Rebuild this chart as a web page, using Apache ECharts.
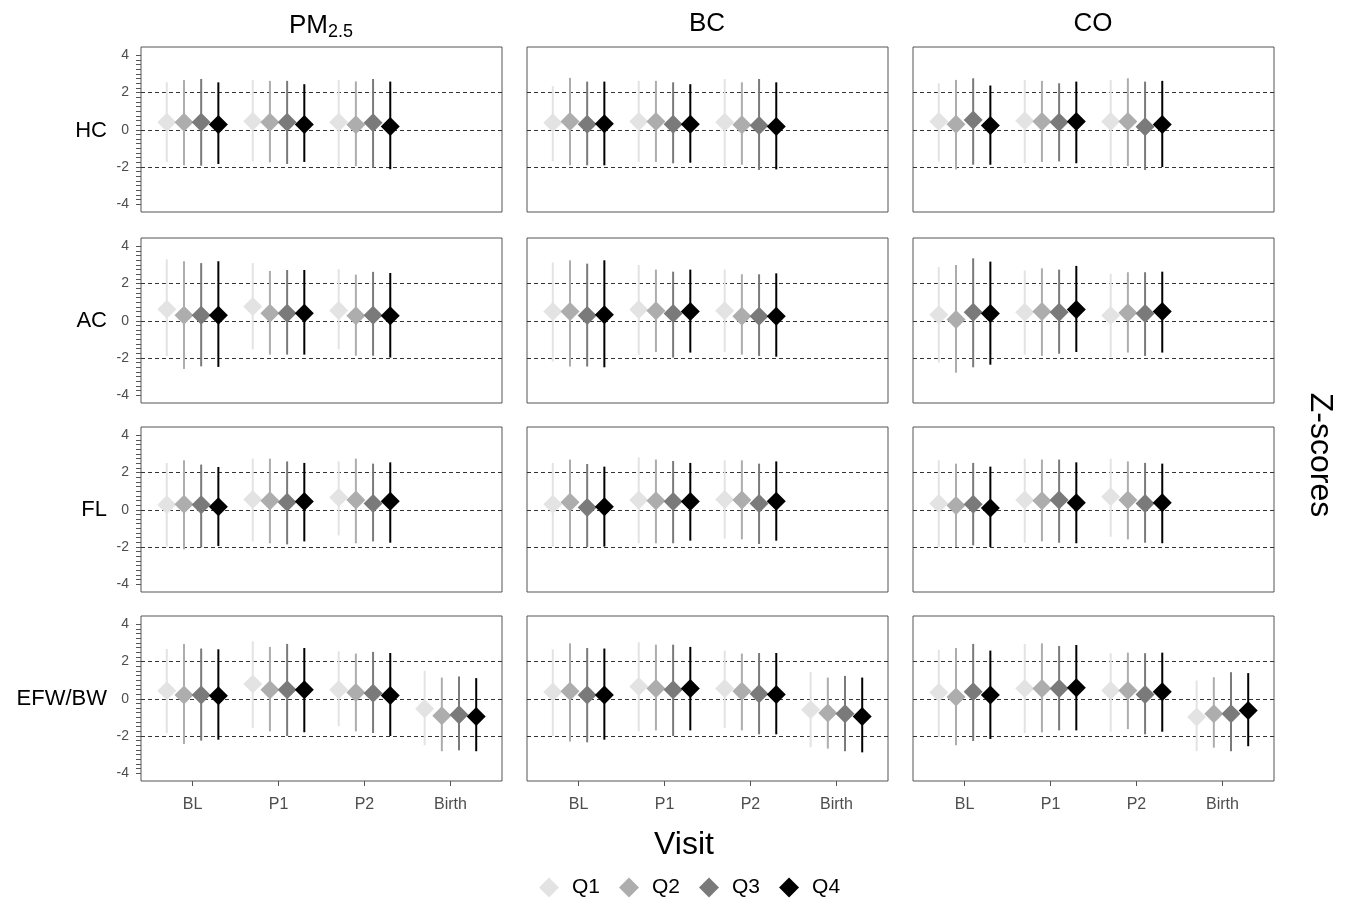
<!DOCTYPE html>
<html>
<head>
<meta charset="utf-8">
<script src="https://cdn.jsdelivr.net/npm/echarts@6/dist/echarts.min.js"></script>
<style>html,body{margin:0;padding:0;background:#fff}#c{width:1351px;height:900px}</style>
</head>
<body>
<div id="c"></div>
<script>
// ---- categories ----
const visits = ['BL', 'P1', 'P2', 'Birth'];
const pollutants = ['PM2.5', 'BC', 'CO'];
const outcomes = ['HC', 'AC', 'FL', 'EFW/BW'];
const quartiles = ['Q1', 'Q2', 'Q3', 'Q4'];
const yTickLabels = [-4, -2, 0, 2, 4];
const refLines = [-2, 0, 2];

// ---- data: each row = one visit, each entry = [estimate, lower, upper] for Q1..Q4 ----
const PM25_HC = [
  [[0.41,-1.73,2.55],[0.41,-1.91,2.68],[0.41,-1.93,2.73],[0.29,-1.84,2.55]],
  [[0.46,-1.70,2.68],[0.41,-1.75,2.63],[0.41,-1.84,2.63],[0.29,-1.73,2.45]],
  [[0.41,-1.96,2.68],[0.27,-1.96,2.60],[0.38,-2.05,2.73],[0.18,-2.12,2.59]]
];
const PM25_AC = [
  [[0.62,-1.91,3.30],[0.30,-2.59,3.20],[0.30,-2.45,3.10],[0.30,-2.48,3.20]],
  [[0.77,-1.54,3.10],[0.41,-1.82,2.68],[0.41,-1.82,2.73],[0.41,-1.82,2.73]],
  [[0.55,-1.54,2.77],[0.27,-1.88,2.48],[0.30,-1.88,2.63],[0.27,-1.98,2.57]]
];
const PM25_FL = [
  [[0.27,-1.98,2.52],[0.30,-2.13,2.66],[0.27,-2.02,2.43],[0.16,-1.95,2.30]],
  [[0.55,-1.70,2.75],[0.48,-1.80,2.75],[0.41,-1.86,2.60],[0.45,-1.70,2.52]],
  [[0.66,-1.38,2.60],[0.52,-1.80,2.75],[0.34,-1.70,2.48],[0.46,-1.77,2.55]]
];
const PM25_EFW = [
  [[0.43,-1.84,2.68],[0.20,-2.43,2.95],[0.20,-2.25,2.70],[0.16,-2.20,2.66]],
  [[0.80,-1.57,3.09],[0.48,-1.75,2.79],[0.48,-2.00,2.95],[0.48,-1.80,2.73]],
  [[0.48,-1.48,2.55],[0.34,-1.75,2.43],[0.30,-1.84,2.52],[0.18,-2.00,2.46]],
  [[-0.54,-2.50,1.50],[-0.91,-2.82,1.14],[-0.86,-2.77,1.20],[-0.95,-2.82,1.11]]
];
const BC_HC = [
  [[0.38,-1.70,2.34],[0.45,-1.91,2.79],[0.30,-1.91,2.59],[0.32,-1.91,2.59]],
  [[0.45,-1.73,2.63],[0.45,-1.73,2.63],[0.30,-1.80,2.55],[0.30,-1.77,2.45]],
  [[0.41,-1.95,2.73],[0.27,-1.88,2.55],[0.23,-2.16,2.73],[0.18,-2.13,2.55]]
];
const BC_AC = [
  [[0.50,-2.20,3.14],[0.50,-2.46,3.25],[0.29,-2.46,3.07],[0.32,-2.50,3.25]],
  [[0.61,-1.84,3.00],[0.54,-1.68,2.75],[0.39,-1.98,2.64],[0.50,-1.71,2.75]],
  [[0.54,-1.68,2.75],[0.25,-1.82,2.50],[0.25,-1.89,2.50],[0.25,-1.93,2.55]]
];
const BC_FL = [
  [[0.30,-1.98,2.52],[0.40,-2.00,2.70],[0.12,-2.00,2.46],[0.16,-1.98,2.32]],
  [[0.52,-1.80,2.82],[0.48,-1.80,2.70],[0.45,-1.80,2.62],[0.45,-1.66,2.52]],
  [[0.55,-1.55,2.66],[0.52,-1.59,2.66],[0.34,-1.84,2.48],[0.46,-1.66,2.60]]
];
const BC_EFW = [
  [[0.37,-2.00,2.66],[0.41,-2.30,2.98],[0.20,-2.34,2.73],[0.20,-2.20,2.70]],
  [[0.66,-1.75,3.04],[0.55,-1.70,2.91],[0.48,-2.00,2.91],[0.55,-1.70,2.79]],
  [[0.55,-1.57,2.59],[0.41,-1.70,2.43],[0.27,-1.91,2.46],[0.23,-1.91,2.46]],
  [[-0.59,-2.61,1.45],[-0.77,-2.68,1.14],[-0.80,-2.82,1.23],[-0.95,-2.88,1.14]]
];
const CO_HC = [
  [[0.45,-1.70,2.50],[0.30,-2.13,2.68],[0.52,-1.88,2.77],[0.23,-1.88,2.38]],
  [[0.48,-1.80,2.68],[0.45,-1.73,2.63],[0.41,-1.70,2.50],[0.45,-1.80,2.59]],
  [[0.45,-1.95,2.68],[0.45,-1.95,2.77],[0.16,-2.16,2.59],[0.29,-2.00,2.63]]
];
const CO_AC = [
  [[0.32,-2.25,2.89],[0.07,-2.79,3.00],[0.46,-2.50,3.36],[0.39,-2.36,3.18]],
  [[0.46,-1.82,2.71],[0.50,-1.89,2.82],[0.46,-1.77,2.75],[0.61,-1.68,2.95]],
  [[0.29,-1.96,2.52],[0.43,-1.71,2.61],[0.39,-1.89,2.61],[0.50,-1.71,2.64]]
];
const CO_FL = [
  [[0.34,-2.00,2.66],[0.23,-2.00,2.48],[0.30,-1.91,2.52],[0.09,-2.00,2.32]],
  [[0.52,-1.77,2.75],[0.48,-1.70,2.70],[0.52,-1.77,2.70],[0.38,-1.80,2.55]],
  [[0.70,-1.45,2.75],[0.52,-1.59,2.60],[0.34,-1.77,2.52],[0.38,-1.80,2.48]]
];
const CO_EFW = [
  [[0.34,-2.05,2.63],[0.09,-2.50,2.73],[0.38,-2.27,2.95],[0.20,-2.16,2.59]],
  [[0.55,-1.84,2.95],[0.55,-1.80,2.98],[0.55,-1.70,2.84],[0.59,-1.70,2.89]],
  [[0.45,-1.77,2.45],[0.45,-1.63,2.48],[0.23,-1.91,2.45],[0.38,-1.77,2.48]],
  [[-0.98,-2.82,0.98],[-0.80,-2.63,1.16],[-0.80,-2.82,1.43],[-0.63,-2.55,1.38]]
];

// panels[row][col]
const panels = [
  [PM25_HC, BC_HC, CO_HC],
  [PM25_AC, BC_AC, CO_AC],
  [PM25_FL, BC_FL, CO_FL],
  [PM25_EFW, BC_EFW, CO_EFW]
];

// ---- styling / layout ----
const qColors = ['#e3e3e3', '#adadad', '#7a7a7a', '#000000'];
const dodge = [-0.3, -0.1, 0.1, 0.3];
const FONT = 'Liberation Sans, Arial, sans-serif';
const colLeft = [141, 527, 913];
const colWidth = 361;
const rowTop = [47, 238, 427, 616];
const rowHeight = 165;
const Y_MIN = -4.42, Y_MAX = 4.45;

const grids = [], xAxes = [], yAxes = [], series = [];
const yMinorTicks = [];
for (let v = -4; v <= 4.001; v += 0.25) yMinorTicks.push(Math.round(v * 100) / 100);

for (let r = 0; r < 4; r++) {
  for (let c = 0; c < 3; c++) {
    const gi = r * 3 + c;
    grids.push({
      left: colLeft[c], top: rowTop[r], width: colWidth, height: rowHeight,
      show: true, borderColor: '#555', borderWidth: 1, backgroundColor: '#fff'
    });
    const bottomRow = r === 3;
    xAxes.push({
      type: 'value', gridIndex: gi, min: 0.4, max: 4.6,
      axisLine: { show: false, onZero: false },
      splitLine: { show: false },
      minorTick: { show: false },
      axisTick: { show: bottomRow, customValues: [1, 2, 3, 4], length: 5, lineStyle: { color: '#555' } },
      axisLabel: {
        show: bottomRow, customValues: [1, 2, 3, 4], margin: 16,
        formatter: v => visits[Math.round(v) - 1] || '',
        color: '#4d4d4d', fontSize: 16, fontFamily: FONT
      }
    });
    const leftCol = c === 0;
    yAxes.push({
      type: 'value', gridIndex: gi, min: Y_MIN, max: Y_MAX,
      axisLine: { show: false, onZero: false },
      splitLine: { show: false },
      axisTick: { show: leftCol, customValues: yMinorTicks, length: 5, lineStyle: { color: '#555' } },
      axisLabel: {
        show: leftCol, customValues: yTickLabels, margin: 12,
        color: '#4d4d4d', fontSize: 14, fontFamily: FONT
      }
    });
    const panel = panels[r][c];
    for (let q = 0; q < 4; q++) {
      const data = panel.map((row, vi) => [vi + 1, q, row[q][0], row[q][1], row[q][2]]);
      const s = {
        type: 'custom', name: quartiles[q], xAxisIndex: gi, yAxisIndex: gi,
        itemStyle: { color: qColors[q] },
        z: 3,
        encode: { x: 0, y: [2, 3, 4] },
        data: data,
        renderItem: function (params, api) {
          const vx = api.value(0) + dodge[api.value(1)];
          const pE = api.coord([vx, api.value(2)]);
          const pL = api.coord([vx, api.value(3)]);
          const pH = api.coord([vx, api.value(4)]);
          const col = api.visual('color');
          const h = 9.5;
          return {
            type: 'group',
            children: [
              { type: 'line', shape: { x1: pL[0], y1: pL[1], x2: pH[0], y2: pH[1] }, style: { stroke: col, lineWidth: 2 } },
              { type: 'polygon', shape: { points: [[pE[0], pE[1] - h], [pE[0] + h, pE[1]], [pE[0], pE[1] + h], [pE[0] - h, pE[1]]] }, style: { fill: col } }
            ]
          };
        }
      };
      if (q === 0) {
        s.markLine = {
          silent: true, symbol: ['none', 'none'], z: 1,
          label: { show: false },
          lineStyle: { type: [4, 3], color: '#333', width: 1 },
          data: refLines.map(v => ({ yAxis: v }))
        };
      }
      series.push(s);
    }
  }
}

const titles = [
  { text: '{a|PM}{b|2.5}', left: 316, top: 6, textAlign: 'center',
    textStyle: { fontWeight: 'normal',
      rich: { a: { fontSize: 26, fontWeight: 'normal', fontFamily: FONT, color: '#000' },
              b: { fontSize: 18, fontWeight: 'normal', fontFamily: FONT, color: '#000', padding: [12, 0, 0, 0] } } } },
  { text: 'BC', left: 702, top: 6, textAlign: 'center', textStyle: { fontSize: 26, fontWeight: 'normal', fontFamily: FONT, color: '#000' } },
  { text: 'CO', left: 1088, top: 6, textAlign: 'center', textStyle: { fontSize: 26, fontWeight: 'normal', fontFamily: FONT, color: '#000' } },
  { text: 'Visit', left: 679, top: 824, textAlign: 'center', textStyle: { fontSize: 32, fontWeight: 'normal', fontFamily: FONT, color: '#000' } }
];

const rowZero = [131, 321, 510, 699];
const graphics = outcomes.map((o, r) => ({
  type: 'text', x: 107, y: rowZero[r], style: { text: o, fill: '#000', font: '22px ' + FONT, align: 'right', verticalAlign: 'middle' }
}));
graphics.push({
  type: 'text', x: 1320, y: 455, rotation: -Math.PI / 2,
  style: { text: 'Z-scores', fill: '#000', font: '32px ' + FONT, align: 'center', verticalAlign: 'middle' }
});

const chart = echarts.init(document.getElementById('c'), null, { renderer: 'canvas' });
chart.setOption({
  animation: false,
  backgroundColor: '#fff',
  title: titles,
  grid: grids,
  xAxis: xAxes,
  yAxis: yAxes,
  legend: {
    data: quartiles, left: 534, top: 872, icon: 'diamond',
    itemWidth: 20, itemHeight: 20, itemGap: 19,
    textStyle: { fontSize: 21, fontFamily: FONT, color: '#000', padding: [0, 0, 0, 8] }
  },
  graphic: graphics,
  series: series
});
</script>
</body>
</html>
